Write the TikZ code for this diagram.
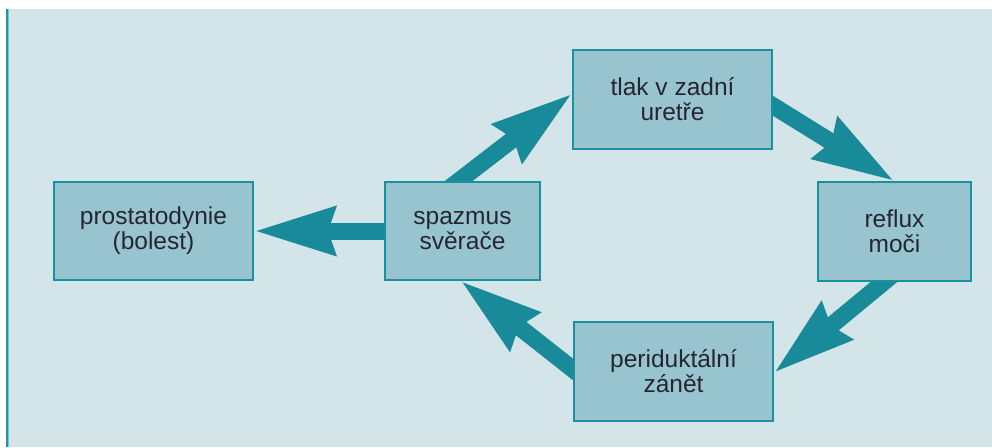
\documentclass[tikz,border=0pt]{standalone}
\usepackage{fontspec}
\setmainfont{Liberation Sans}
\usetikzlibrary{arrows.meta,calc}
\definecolor{bgc}{RGB}{212,229,234}
\definecolor{boxc}{RGB}{152,196,208}
\definecolor{edgec}{RGB}{26,145,160}
\definecolor{arrc}{RGB}{24,138,153}
\definecolor{txtc}{RGB}{38,38,50}
\definecolor{leftc}{RGB}{30,150,165}
\pgfdeclarelayer{bgzero}
\pgfdeclarelayer{bgone}
\pgfsetlayers{bgzero,bgone,main}
\tikzset{
  boxnode/.style={draw=edgec, line width=1.5pt, fill=boxc, text=txtc, align=center,
    inner sep=0pt, font=\fontsize{24.5}{25}\selectfont},
  bigarrow/.style={draw=arrc, line width=17pt,
    -{Stealth[length=80pt, width=46pt, inset=6pt]}}
}
\begin{document}
\begin{tikzpicture}[x=1pt,y=-1pt]
\useasboundingbox (0,0) rectangle (992,447);
\begin{pgfonlayer}{bgzero}
  \fill[white] (0,0) rectangle (992,447);
  \fill[bgc] (8,9) rectangle (992,447);
  \fill[leftc] (6,9) rectangle (8.2,447);
  \fill[leftc!45!bgc] (8.2,9) rectangle (9.2,447);
\end{pgfonlayer}
\node[boxnode, minimum width=199pt, minimum height=98pt] (prost) at (153.5,231) {prostatodynie\\(bolest)};
\node[boxnode, minimum width=155pt, minimum height=98pt] (spaz) at (462.5,231) {spazmus\\svěrače};
\node[boxnode, minimum width=199pt, minimum height=99pt] (tlak) at (672.5,99.5) {tlak v zadní\\uretře};
\node[boxnode, minimum width=153pt, minimum height=99pt] (refl) at (894.5,231.5) {reflux\\moči};
\node[boxnode, minimum width=199pt, minimum height=99pt] (peri) at (673.5,371.5) {periduktální\\zánět};
\begin{pgfonlayer}{bgone}
  \draw[bigarrow] ($(spaz.west)+(15,0)$) -- (prost.east);
  \draw[bigarrow] ($(spaz.north)+(-27.5,18)$) -- ($(tlak.west)+(0,-6)$);
  \draw[bigarrow] ($(tlak.east)+(-22,-7.5)$) -- (refl.north);
  \draw[bigarrow] ($(refl.south)+(11.5,-18)$) -- ($(peri.east)+(0,1.5)$);
  \draw[bigarrow] ($(peri.west)+(22,15.5)$) -- ($(spaz.south)+(-2,0)$);
\end{pgfonlayer}
\end{tikzpicture}
\end{document}
